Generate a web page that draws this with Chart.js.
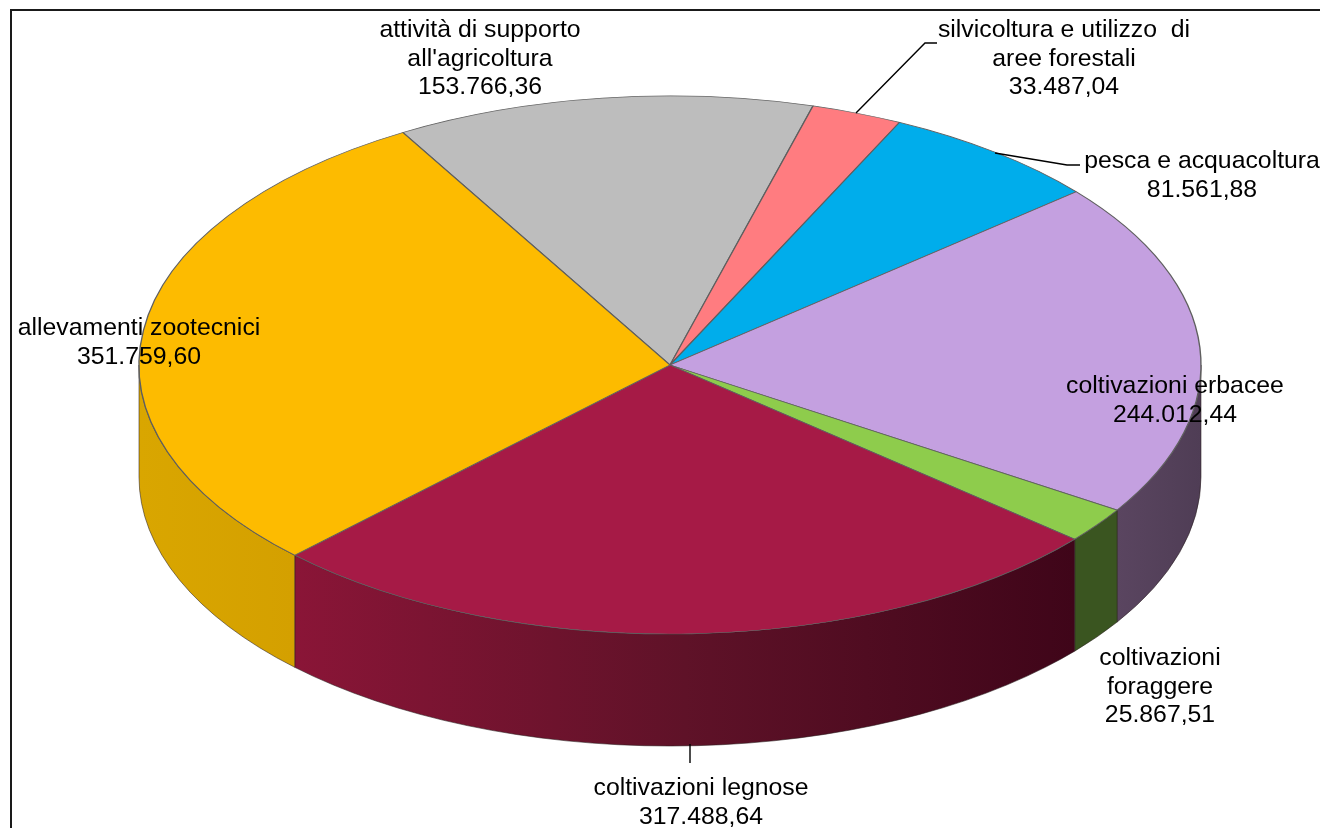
<!DOCTYPE html>
<html lang="it">
<head>
<meta charset="utf-8">
<title>Torta 3D</title>
<script src="https://cdn.jsdelivr.net/npm/chart.js@4/dist/chart.umd.min.js"></script>
<style>
    html, body { margin: 0; padding: 0; background: #fff; overflow: hidden; }
    canvas { display: block; }
</style>
</head>
<body>
<canvas id="torta" width="1320" height="828"></canvas>
<script>
// dati
const categorie = [
    "attività di supporto\nall'agricoltura",
    'silvicoltura e utilizzo  di\naree forestali',
    'pesca e acquacoltura',
    'coltivazioni erbacee',
    'coltivazioni\nforaggere',
    'coltivazioni legnose',
    'allevamenti zootecnici'
];
const valori = [153766.36, 33487.04, 81561.88, 244012.44, 25867.51, 317488.64, 351759.60];

// colori del piano superiore e del bordo laterale
const coloriSopra = ['#BDBDBD', '#FF7C80', '#00ADEB', '#C4A0E0', '#8ECC4C', '#A61A46', '#FDBB00'];
const coloriLato = [
    ['#8e8e8e', '#8e8e8e'],
    ['#bf5d60', '#bf5d60'],
    ['#00729c', '#00729c'],
    ['#5a4560', '#4f3d55'],
    ['#3a5520', '#3a5520'],
    ['#8a1537', '#5f1228', '#3f0519'],
    ['#d9a600', '#d4a000']
];

// posizione delle etichette: [centro x, y della prima riga]
const posEtichette = [[480, 30], [1064, 30], [1202, 161], [1175, 386], [1160, 658], [701, 788], [139, 328]];
const linee = [
    [[856, 113], [925, 43], [937, 43]],
    [[995, 153], [1067, 165], [1080, 165]],
    [[690, 744], [690, 763]]
];

const raggio = 531;
const schiacciamento = 0.5066; // rapporto y/x dell'ellisse
const spessore = 112;

function formatta(n) {
    return n.toLocaleString('it-IT', { minimumFractionDigits: 2, maximumFractionDigits: 2 });
}

// cornice, bordo laterale e schiacciamento della torta
const torta3d = {
    id: 'torta3d',
    beforeDraw(chart) {
        const ctx = chart.ctx;
        ctx.save();
        ctx.fillStyle = '#fff';
        ctx.fillRect(0, 0, chart.width, chart.height);
        ctx.strokeStyle = '#1a1a1a';
        ctx.lineWidth = 2;
        ctx.beginPath();
        ctx.moveTo(11, chart.height);
        ctx.lineTo(11, 10);
        ctx.lineTo(chart.width, 10);
        ctx.stroke();
        ctx.restore();
    },
    beforeDatasetsDraw(chart) {
        const ctx = chart.ctx;
        const archi = chart.getDatasetMeta(0).data;
        ctx.save();
        archi.forEach((arco, i) => {
            const a = Math.max(arco.startAngle, 0);
            const b = Math.min(arco.endAngle, Math.PI);
            if (b <= a) return;
            const r = arco.outerRadius;
            const ry = r * schiacciamento;
            const x1 = arco.x + r * Math.cos(b);
            const x2 = arco.x + r * Math.cos(a);
            const grad = ctx.createLinearGradient(x1, 0, x2, 0);
            coloriLato[i].forEach((c, k, tutti) => grad.addColorStop(k / (tutti.length - 1), c));
            ctx.beginPath();
            ctx.ellipse(arco.x, arco.y, r, ry, 0, a, b);
            ctx.ellipse(arco.x, arco.y + spessore, r, ry, 0, b, a, true);
            ctx.closePath();
            ctx.fillStyle = grad;
            ctx.fill();
            ctx.strokeStyle = 'rgba(40,30,30,0.55)';
            ctx.lineWidth = 1;
            ctx.stroke();
        });
        ctx.restore();

        const centro = archi[0];
        ctx.save();
        ctx.translate(centro.x, centro.y);
        ctx.scale(1, schiacciamento);
        ctx.translate(-centro.x, -centro.y);
    },
    afterDatasetsDraw(chart) {
        chart.ctx.restore();
    },
    afterDraw(chart) {
        const ctx = chart.ctx;
        ctx.save();
        ctx.strokeStyle = '#000';
        ctx.lineWidth = 1.4;
        linee.forEach(punti => {
            ctx.beginPath();
            punti.forEach((p, i) => i ? ctx.lineTo(p[0], p[1]) : ctx.moveTo(p[0], p[1]));
            ctx.stroke();
        });

        ctx.fillStyle = '#000';
        ctx.font = '24.8px "Liberation Sans"';
        ctx.textAlign = 'center';
        ctx.textBaseline = 'middle';
        categorie.forEach((nome, i) => {
            const righe = nome.split('\n').concat(formatta(valori[i]));
            righe.forEach((riga, k) => {
                ctx.fillText(riga, posEtichette[i][0], posEtichette[i][1] + k * 28.7);
            });
        });
        ctx.restore();
    }
};

new Chart(document.getElementById('torta'), {
    type: 'pie',
    data: {
        labels: categorie,
        datasets: [{
            data: valori,
            backgroundColor: coloriSopra,
            borderColor: '#5f5f5f',
            borderWidth: 1.4,
            radius: raggio,
            clip: false
        }]
    },
    options: {
        responsive: false,
        animation: false,
        rotation: -30.2,
        layout: { padding: { left: 20, right: 0, top: 0, bottom: 98 } },
        plugins: {
            legend: { display: false },
            title: { display: false },
            tooltip: { enabled: false }
        }
    },
    plugins: [torta3d]
});
</script>
</body>
</html>
